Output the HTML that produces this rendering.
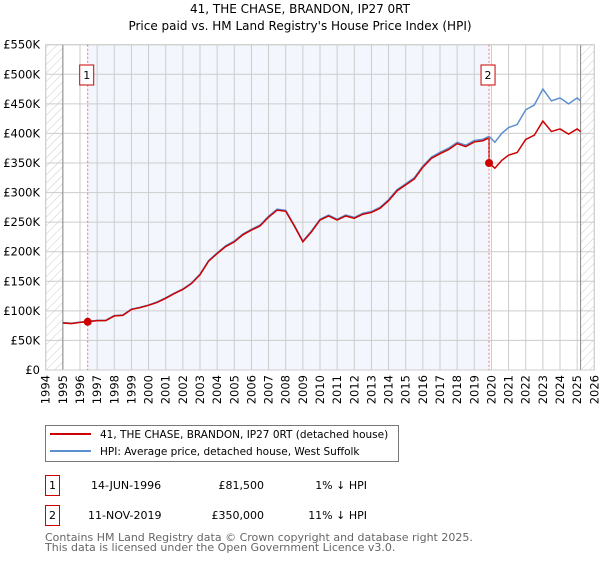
<!DOCTYPE html>
<html><head><meta charset="utf-8"><style>
body{margin:0;background:#fff;width:600px;height:560px;overflow:hidden;font-family:"DejaVu Sans","Liberation Sans",sans-serif}
svg text{font-family:"DejaVu Sans","Liberation Sans",sans-serif}
</style></head><body>
<svg id="chart" width="600" height="560" xmlns="http://www.w3.org/2000/svg">
<defs><pattern id="hatch" width="6" height="6" patternUnits="userSpaceOnUse" patternTransform="rotate(45)"><line x1="0" y1="0" x2="0" y2="6" stroke="#ccc" stroke-width="1"/></pattern></defs>
<text x="300" y="13" text-anchor="middle" font-size="12">41, THE CHASE, BRANDON, IP27 0RT</text>
<text x="300" y="30" text-anchor="middle" font-size="12">Price paid vs. HM Land Registry's House Price Index (HPI)</text>
<g id="plot"></g>
<g>
<rect x="45.5" y="425.5" width="353" height="36" fill="#fff" stroke="#777"/>
<line x1="50" y1="434" x2="91" y2="434" stroke="#cc0000" stroke-width="2"/>
<text x="100" y="438" font-size="10.5">41, THE CHASE, BRANDON, IP27 0RT (detached house)</text>
<line x1="50" y1="451" x2="91" y2="451" stroke="#5b8fd0" stroke-width="2"/>
<text x="100" y="455" font-size="10.5">HPI: Average price, detached house, West Suffolk</text>
</g>
<g font-size="11">
<rect x="45.5" y="475.5" width="14" height="20" fill="#fff" stroke="#cc0000"/>
<text x="52.5" y="489" text-anchor="middle">1</text>
<text x="91" y="489">14-JUN-1996</text>
<text x="264" y="489" text-anchor="end">£81,500</text>
<text x="367" y="489" text-anchor="end">1% ↓ HPI</text>
</g>
<g font-size="11">
<rect x="45.5" y="505.5" width="14" height="20" fill="#fff" stroke="#cc0000"/>
<text x="52.5" y="519" text-anchor="middle">2</text>
<text x="88" y="519">11-NOV-2019</text>
<text x="264" y="519" text-anchor="end">£350,000</text>
<text x="367" y="519" text-anchor="end">11% ↓ HPI</text>
</g>
<text x="45" y="541" font-size="11" fill="#666">Contains HM Land Registry data © Crown copyright and database right 2025.</text>
<text x="45" y="551" font-size="11" fill="#666">This data is licensed under the Open Government Licence v3.0.</text>
</svg>
<script>
const hpiYears=[1995,1995.5,1996,1996.45,1997,1997.5,1998,1998.5,1999,1999.5,2000,2000.5,2001,2001.5,2002,2002.5,2003,2003.5,2004,2004.5,2005,2005.5,2006,2006.5,2007,2007.5,2008,2008.5,2009,2009.5,2010,2010.5,2011,2011.5,2012,2012.5,2013,2013.5,2014,2014.5,2015,2015.5,2016,2016.5,2017,2017.5,2018,2018.5,2019,2019.5,2019.86,2020.2,2020.6,2021,2021.5,2022,2022.5,2023,2023.5,2024,2024.5,2025,2025.2];
const hpiValues=[80,79,81,82,84,84,92,93,103,106,110,115,122,130,137,147,162,185,198,210,218,230,238,245,260,272,270,245,218,235,255,262,255,262,258,265,268,275,288,305,315,325,345,360,368,375,385,380,388,390,395,385,400,410,415,440,448,475,455,460,450,460,455];
const saleYears=[1996.45,2019.86];
const salePrices=[81500,350000];
const yTicks=[0,50,100,150,200,250,300,350,400,450,500,550];
const xTicks=[1994,1995,1996,1997,1998,1999,2000,2001,2002,2003,2004,2005,2006,2007,2008,2009,2010,2011,2012,2013,2014,2015,2016,2017,2018,2019,2020,2021,2022,2023,2024,2025,2026];
const X0=45.7,X1=594.3,Y0=370,Y1=44.7;
const x=v=>X0+(v-1994)/32*(X1-X0);
const y=v=>Y0-v/550*(Y0-Y1);
const NS="http://www.w3.org/2000/svg";
const g=document.getElementById('plot');
function el(t,a){const e=document.createElementNS(NS,t);for(const k in a)e.setAttribute(k,a[k]);g.appendChild(e);return e;}
let r=el('rect',{x:x(saleYears[0]),y:Y1,width:x(saleYears[1])-x(saleYears[0]),height:Y0-Y1,fill:'#eef3fc',opacity:0.7});


let h1=el('rect',{x:X0,y:Y1,width:x(1995)-X0,height:Y0-Y1,fill:'url(#hatch)'});


let h2=el('rect',{x:x(2025.2),y:Y1,width:X1-x(2025.2),height:Y0-Y1,fill:'url(#hatch)'});


yTicks.forEach(t=>{
 let l=el('line',{x1:X0,x2:X1,y1:y(t),y2:y(t),stroke:'#ccc'});
 
 
 let tx=el('text',{x:40,y:y(t)+4,'text-anchor':'end','font-size':11.5});
 tx.textContent=t===0?'£0':'£'+t+'K';
 
 
});
xTicks.forEach(t=>{
 let l=el('line',{x1:x(t),x2:x(t),y1:Y1,y2:Y0,stroke:'#ccc'});
 
 
 let tx=el('text',{transform:`translate(${x(t)+4},${Y0+5}) rotate(-90)`,'text-anchor':'end','font-size':11.5});
 tx.textContent=t;
 
 
});
[1995,2025.2].forEach(t=>{let l=el('line',{x1:x(t),x2:x(t),y1:Y1,y2:Y0,stroke:'#888'});
 
 });
let fr=el('rect',{x:X0,y:Y1,width:X1-X0,height:Y0-Y1,fill:'none',stroke:'#ccc'});


function hpiAt(t){for(let i=0;i<hpiYears.length-1;i++){if(t<=hpiYears[i+1]){const f=(t-hpiYears[i])/(hpiYears[i+1]-hpiYears[i]);return hpiValues[i]+f*(hpiValues[i+1]-hpiValues[i]);}}return hpiValues[hpiValues.length-1];}
let hp=el('polyline',{points:hpiYears.map((t,i)=>x(t)+','+y(hpiValues[i])).join(' '),fill:'none',stroke:'#5b8fd0','stroke-width':1.5});


const pts=[];
hpiYears.forEach((t,i)=>{
 let idx=t<saleYears[1]?0:1;
 if(t===saleYears[1]){pts.push(x(t)+','+y(hpiValues[i]*salePrices[0]/1000/hpiAt(saleYears[0])));}
 const f=salePrices[idx]/1000/hpiAt(saleYears[idx]);
 pts.push(x(t)+','+y(hpiValues[i]*f));
});
let pl=el('polyline',{points:pts.join(' '),fill:'none',stroke:'#cc0000','stroke-width':1.5});


saleYears.forEach((t,i)=>{
 let vl=el('line',{x1:x(t),x2:x(t),y1:Y1,y2:Y0,stroke:'#f07070','stroke-dasharray':'2,2'});
 
 
 let c=el('circle',{cx:x(t),cy:y(salePrices[i]/1000),r:4,fill:'#cc0000'});
 
 
 let b=el('rect',{x:x(t)-8,y:65,width:14,height:20,fill:'#fff',stroke:'#cc0000'});
 
 
 let tx=el('text',{x:x(t)-1,y:79,'text-anchor':'middle','font-size':11});
 tx.textContent=i+1;
 
 
});
</script>
</body></html>
